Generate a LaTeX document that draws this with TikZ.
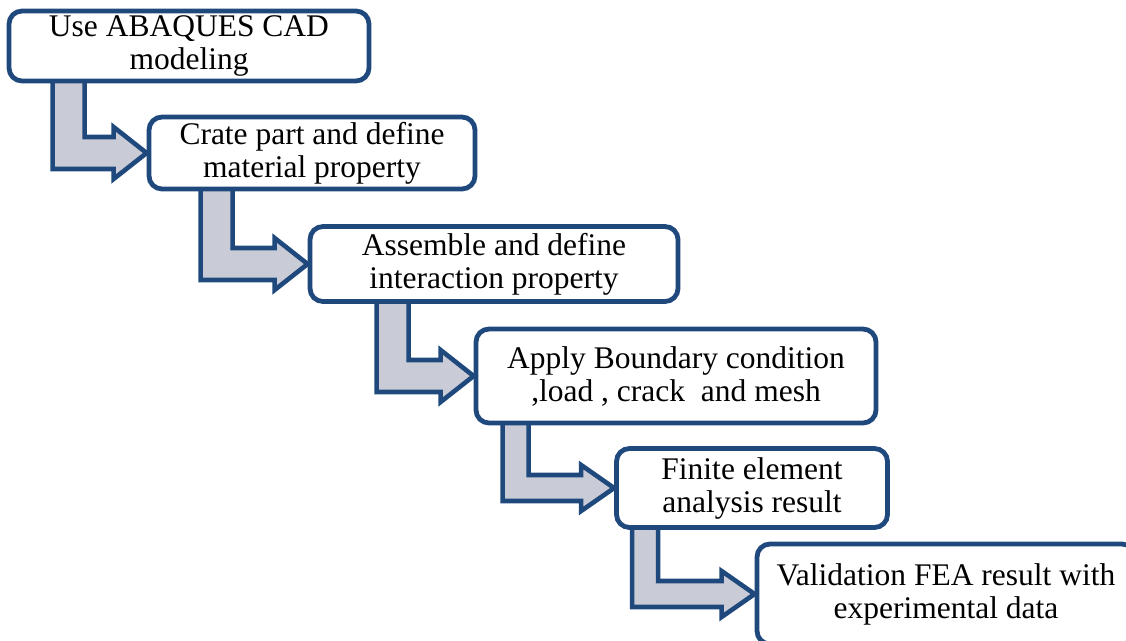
\documentclass[tikz,border=0pt]{standalone}
\usepackage{fontspec}
\setmainfont{Liberation Serif}
\usetikzlibrary{calc,backgrounds}

\definecolor{boxBlue}{RGB}{31,73,125}
\definecolor{arrowGrey}{RGB}{201,204,214}

% bent block arrow from the bottom of one stage into the side of the next
% #1 source, #2 target, #3 shaft offset, #4 shaft width
\newcommand{\stageArrow}[4]{%
  \draw[flowArrow] let \p1 = (#1.south west), \p2 = (#2.west) in
    ({\x1+#3pt}, {\y1+6pt})
    -- ({\x1+#3pt}, {\y2-#4pt/2})
    -- ({\x2-33pt}, {\y2-#4pt/2})
    -- ({\x2-33pt}, {\y2-#4pt/2-10pt})
    -- (\p2)
    -- ({\x2-33pt}, {\y2+#4pt/2+10pt})
    -- ({\x2-33pt}, {\y2+#4pt/2})
    -- ({\x1+#3pt+#4pt}, {\y2+#4pt/2})
    -- ({\x1+#3pt+#4pt}, {\y1+6pt})
    -- cycle;}

\begin{document}
\begin{tikzpicture}[
    x=1pt, y=-1pt,
    stageBox/.style={
      draw=boxBlue, line width=4.8pt, fill=white,
      rounded corners=13pt, align=center,
      font=\fontsize{31.5}{33}\selectfont},
    flowArrow/.style={
      draw=boxBlue, line width=4.6pt, fill=arrowGrey}]

    \useasboundingbox (0,0) rectangle (1126,640);

    \node[stageBox, minimum width=360pt, minimum height=70pt]
      (cad) at (189, 46) {Use ABAQUES CAD\\modeling};

    \node[stageBox, minimum width=326pt, minimum height=72pt]
      (part) at (312, 153) {Crate part and define\\material property};

    \node[stageBox, minimum width=368pt, minimum height=75pt]
      (assembly) at (494, 264) {Assemble and define\\interaction property};

    \node[stageBox, minimum width=400pt, minimum height=94pt]
      (boundary) at (676, 376) {Apply Boundary condition\\,load , crack~ and mesh};

    \node[stageBox, minimum width=271pt, minimum height=79pt]
      (fea) at (752, 488) {Finite element\\analysis result};

    \node[stageBox, minimum width=378pt, minimum height=100pt]
      (validation) at (946, 594) {Validation FEA result with\\experimental data};

    \begin{scope}[on background layer]
      \stageArrow{cad}{part}{46}{32}
      \stageArrow{part}{assembly}{54}{32}
      \stageArrow{assembly}{boundary}{69}{32}
      \stageArrow{boundary}{fea}{29}{26}
      \stageArrow{fea}{validation}{18}{26}
    \end{scope}
\end{tikzpicture}
\end{document}
